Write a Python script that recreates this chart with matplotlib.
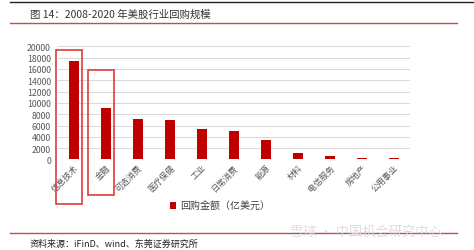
import matplotlib
matplotlib.use("Agg")
import matplotlib.pyplot as plt
from matplotlib.patches import Rectangle
from matplotlib.lines import Line2D

plt.rcParams['font.family'] = ['Noto Sans CJK SC', 'DejaVu Sans']

categories = ['信息技术', '金融', '可选消费', '医疗保健', '工业', '日常消费',
              '能源', '材料', '电信服务', '房地产', '公用事业']
buyback = [17400, 9100, 7100, 6950, 5350, 5100, 3400, 1100, 650, 300, 250]
yticks = list(range(0, 20001, 2000))
highlight = [0, 1]
box_tops = [19350, 15800]
box_bottoms = [-7900, -6300]

bar_color = '#C00000'
box_color = '#E03A3A'
text_gray = '#595959'

fig = plt.figure(figsize=(4.74, 2.51), dpi=100)
ax = fig.add_axes([0.122, 0.3606, 0.743, 0.451])

x = list(range(len(categories)))
ax.bar(x, buyback, width=0.3, color=bar_color, zorder=3, label='回购金额（亿美元）')
ax.set_xlim(-0.5, len(categories) - 0.5)
ax.set_ylim(0, 20000)
ax.set_yticks(yticks)
ax.set_yticklabels([str(v) for v in yticks], fontsize=6.3, color=text_gray)
ax.yaxis.grid(True, color='#D9D9D9', linewidth=0.7, zorder=0)
ax.set_axisbelow(True)
ax.tick_params(axis='y', length=0, pad=5)
ax.tick_params(axis='x', length=0, pad=2)
ax.set_xticks(x)
ax.set_xticklabels(categories, rotation=45, ha='right', va='top',
                   rotation_mode='anchor', fontsize=6, color=text_gray)
for s in ax.spines.values():
    s.set_visible(False)
ax.axhline(0, color='#D9D9D9', linewidth=0.8, zorder=1)

# red highlight boxes
for i, top, bot in zip(highlight, box_tops, box_bottoms):
    ax.add_patch(Rectangle((i - 0.56, bot), 0.81, top - bot, fill=False,
                           edgecolor=box_color, linewidth=1.2, clip_on=False, zorder=4))

leg = fig.legend(loc='center', bbox_to_anchor=(0.465, 0.175), frameon=False,
                 fontsize=7.2, handlelength=0.6, handleheight=0.6, handletextpad=0.4)
for t in leg.get_texts():
    t.set_color('#404040')

# header / footer decoration
fig.add_artist(Line2D([0.021, 1.0], [0.988, 0.988], color='#222222', linewidth=1.0))
fig.add_artist(Line2D([0.021, 0.964], [0.905, 0.905], color='#C0504D', linewidth=1.0))
fig.add_artist(Line2D([0.021, 0.964], [0.068, 0.068], color='#C0504D', linewidth=1.0))
fig.text(0.063, 0.94, '图 14：2008-2020 年美股行业回购规模', fontsize=7.5,
         color='#333333', va='center', ha='left', fontweight='medium')
fig.text(0.063, 0.028, '资料来源：iFinD、wind、东莞证券研究所', fontsize=6.5,
         color='#222222', va='center', ha='left', fontweight='medium')
fig.text(0.612, 0.075, '雪球 · 中国机会研究中心', fontsize=9.5, color='#DDDDDD',
         va='center', ha='left')

fig.savefig('out.png', dpi=100, facecolor='white')
